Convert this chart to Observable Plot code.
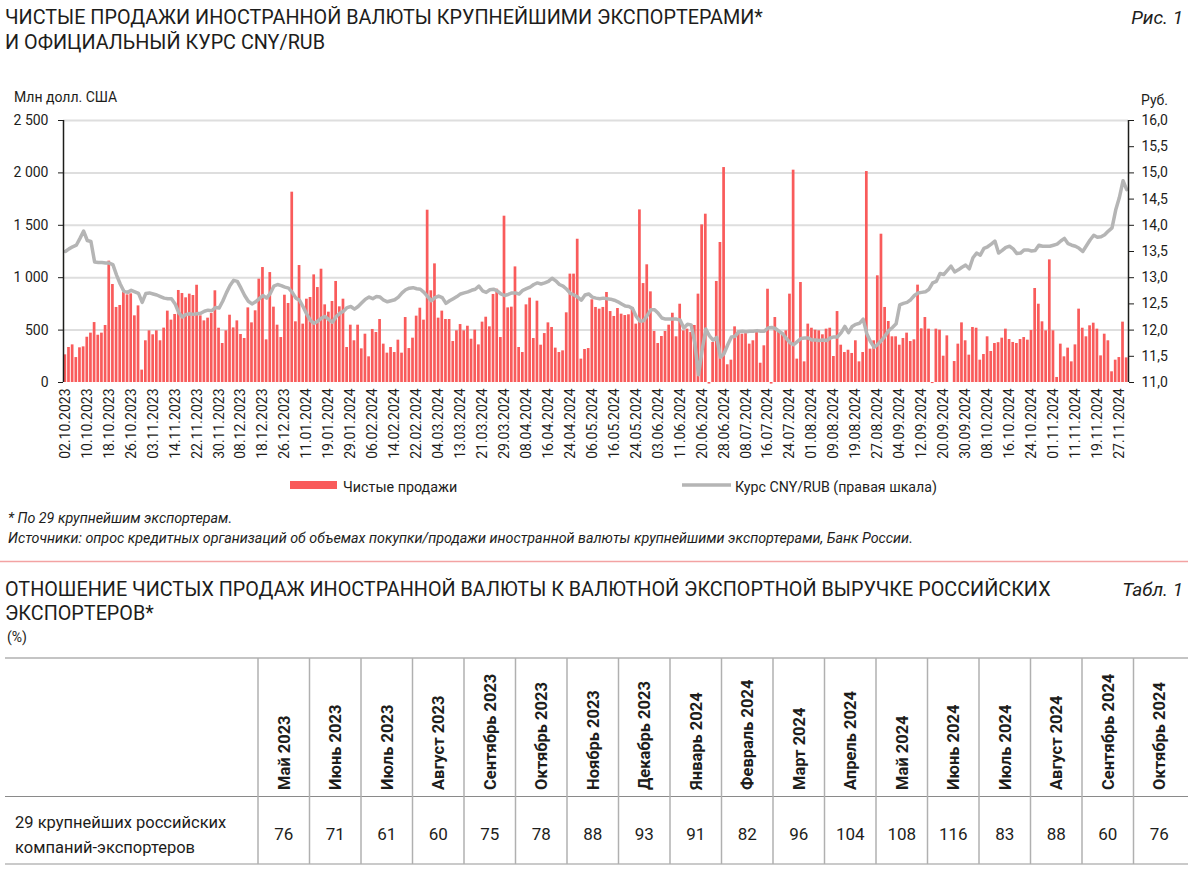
<!DOCTYPE html>
<html><head><meta charset="utf-8">
<script src="https://cdn.jsdelivr.net/npm/d3@7"></script>
<script src="https://cdn.jsdelivr.net/npm/@observablehq/plot@0.6"></script>
<style>
html,body{margin:0;padding:0;background:#fff}
body{width:1200px;height:872px;position:relative;overflow:hidden;font-family:Roboto,"Noto Sans",sans-serif;color:#1d1d1b}
#chart{position:absolute;left:0;top:90px}
#overlay{position:absolute;left:0;top:0}
</style></head>
<body>
<svg id="overlay" width="1200" height="872"></svg>
<div id="chart"></div>
<script>
// Net sales of foreign currency, USD mn (business days 02.10.2023 – 29.11.2024)
const netSales = [
264,334,359,238,331,340,432,471,572,451,471,544,1158,935,716,735,859,836,846,636,731,118,398,493,455,493,398,519,681,595,649,878,849,808,843,830,928,
636,588,614,658,875,518,372,493,642,521,588,458,420,712,569,684,986,1097,407,1049,719,547,429,833,754,1816,579,1116,557,795,811,1027,906,1081,741,671,773,
964,722,795,334,547,398,547,321,461,245,506,477,601,366,280,334,286,404,280,620,324,423,633,709,595,1644,875,1132,614,681,601,601,391,493,553,493,537,
413,499,359,576,623,531,840,890,429,1587,712,719,1103,334,286,741,805,420,776,356,467,569,525,328,286,302,665,1034,1034,1367,223,315,324,789,716,700,716,
859,677,630,706,652,639,646,716,557,1647,944,1123,865,487,372,439,487,547,661,436,747,493,509,477,544,843,1504,1606,-15,382,964,1336,2051,169,213,531,490,
461,467,366,398,477,184,350,890,-15,620,493,467,493,843,2026,223,954,197,557,518,499,493,455,509,518,248,677,356,286,308,277,398,197,286,2013,318,
398,1018,1415,716,582,436,436,356,420,471,391,407,929,512,620,509,-10,509,499,251,445,0,200,366,569,398,261,525,518,213,267,436,296,372,
380,423,509,410,382,372,410,429,404,496,897,747,579,493,1170,493,48,366,245,328,197,359,700,518,436,541,566,509,254,461,398,102,213,238,576,235
];
// Official CNY/RUB rate, rubles
const cnyRub = [
13.50,13.55,13.59,13.62,13.75,13.89,13.71,13.69,13.30,13.29,13.29,13.28,13.28,13.25,13.05,12.88,12.74,12.72,12.76,12.73,12.70,12.53,12.70,12.71,12.69,12.67,12.64,12.61,12.60,12.60,12.50,12.33,12.25,12.30,12.31,12.30,12.31,
12.32,12.36,12.38,12.37,12.43,12.42,12.55,12.71,12.85,12.95,12.93,12.80,12.66,12.55,12.50,12.54,12.60,12.66,12.61,12.70,12.84,12.87,12.85,12.82,12.80,12.72,12.61,12.57,12.44,12.30,12.18,12.13,12.17,12.23,12.26,12.20,12.15,
12.26,12.32,12.36,12.43,12.45,12.40,12.45,12.52,12.59,12.63,12.60,12.64,12.63,12.57,12.54,12.56,12.58,12.63,12.71,12.77,12.80,12.81,12.79,12.78,12.72,12.64,12.56,12.62,12.65,12.62,12.51,12.56,12.60,12.64,12.69,12.71,12.73,
12.76,12.78,12.84,12.75,12.72,12.77,12.78,12.75,12.69,12.66,12.68,12.71,12.71,12.69,12.76,12.79,12.82,12.87,12.90,12.88,12.90,12.93,12.99,12.94,12.87,12.84,12.78,12.70,12.67,12.63,12.57,12.67,12.69,12.63,12.61,12.60,12.61,
12.60,12.59,12.57,12.54,12.50,12.46,12.45,12.41,12.26,12.17,12.18,12.28,12.39,12.39,12.32,12.23,12.21,12.21,12.21,12.21,12.19,12.04,12.11,12.10,11.75,11.15,11.62,12.02,11.89,11.81,11.86,11.48,11.55,11.72,11.87,11.88,11.97,
11.98,11.97,11.98,11.98,11.99,11.98,11.98,12.04,12.05,12.03,11.98,11.93,11.84,11.76,11.72,11.78,11.84,11.85,11.85,11.81,11.81,11.80,11.81,11.80,11.85,11.87,11.87,11.95,12.07,11.95,12.07,12.11,12.13,12.21,11.93,11.78,
11.67,11.73,11.80,11.89,11.99,12.05,12.12,12.48,12.51,12.53,12.58,12.66,12.71,12.72,12.73,12.78,12.90,12.93,13.08,13.06,13.14,13.22,13.11,13.15,13.20,13.24,13.17,13.38,13.47,13.43,13.56,13.59,13.64,13.70,
13.47,13.52,13.58,13.60,13.55,13.46,13.47,13.53,13.53,13.51,13.52,13.62,13.60,13.60,13.60,13.62,13.64,13.70,13.75,13.65,13.62,13.60,13.56,13.50,13.61,13.72,13.81,13.77,13.78,13.82,13.89,13.95,14.29,14.53,14.85,14.68
];
// x-axis tick labels (every 6th business day)
const tickLabels = ["02.10.2023","10.10.2023","18.10.2023","26.10.2023","03.11.2023","14.11.2023","22.11.2023","30.11.2023","08.12.2023","18.12.2023","26.12.2023","11.01.2024","19.01.2024","29.01.2024","06.02.2024","14.02.2024","22.02.2024","04.03.2024","13.03.2024","21.03.2024","29.03.2024","08.04.2024","16.04.2024","24.04.2024","06.05.2024","16.05.2024","24.05.2024","03.06.2024","11.06.2024","20.06.2024","28.06.2024","08.07.2024","16.07.2024","24.07.2024","01.08.2024","09.08.2024","19.08.2024","27.08.2024","04.09.2024","12.09.2024","20.09.2024","30.09.2024","08.10.2024","16.10.2024","24.10.2024","01.11.2024","11.11.2024","19.11.2024","27.11.2024"];
const leftTicks = [0, 500, 1000, 1500, 2000, 2500];
const rightTicks = [11, 11.5, 12, 12.5, 13, 13.5, 14, 14.5, 15, 15.5, 16];
// Table
const tableMonths = ["Май 2023","Июнь 2023","Июль 2023","Август 2023","Сентябрь 2023","Октябрь 2023","Ноябрь 2023","Декабрь 2023","Январь 2024","Февраль 2024","Март 2024","Апрель 2024","Май 2024","Июнь 2024","Июль 2024","Август 2024","Сентябрь 2024","Октябрь 2024"];
const tableValues = [76,71,61,60,75,78,88,93,91,82,96,104,108,116,83,88,60,76];
const rowLabel = ["29 крупнейших российских","компаний-экспортеров"];

const BAR = "#f95b5b", LINE = "#b5b5b5";
const R0 = 11, K = 500; // right scale (rub) -> left scale units
const toLeft = r => (r - R0) * K;

const data = netSales.map((v, i) => ({i, v, r: cnyRub[i]}));
const N = netSales.length;

const chart = Plot.plot({
  width: 1200, height: 380,
  marginTop: 30, marginLeft: 63, marginRight: 72, marginBottom: 88,
  style: {fontFamily: "Roboto, sans-serif", fontSize: "14px", color: "#1d1d1b", background: "transparent"},
  x: {type: "linear", domain: [-0.5, N - 0.5]},
  y: {type: "linear", domain: [0, 2500]},
  marks: [
    Plot.ruleY(leftTicks.slice(1), {stroke: "#dedede", strokeWidth: 2}),
    Plot.rect(data, {x1: d => d.i - 0.37, x2: d => d.i + 0.37, y1: d => 0, y2: "v", fill: BAR}),
    Plot.lineY(data, {x: "i", y: d => toLeft(d.r), stroke: LINE, strokeWidth: 3.5, strokeLinejoin: "round"}),
    Plot.ruleX([-0.5, N - 0.5], {stroke: "#1d1d1b", strokeWidth: 1.5}),
    Plot.axisY({anchor: "left", ticks: leftTicks, tickFormat: d => d3.format(",")(d).replace(/,/g, "\u00a0"), tickSize: 5, tickPadding: 10, label: null, fontSize: 14}),
    Plot.axisY({anchor: "right", ticks: rightTicks.map(toLeft), tickFormat: d => (d / K + R0).toFixed(1).replace(".", ","), tickSize: 5, tickPadding: 8, label: null, fontSize: 14}),
    Plot.axisX({ticks: tickLabels.map((_, k) => k * 6), tickFormat: i => tickLabels[Math.round(i / 6)], tickRotate: -90, tickSize: 0, tickPadding: 6, label: null, fontSize: 14})
  ]
});
document.getElementById("chart").appendChild(chart);

// Overlay: titles, legend, notes, table
const svg = d3.select("#overlay");
function txt(x, y, s, o = {}) {
  const t = svg.append("text").attr("x", x).attr("y", y).text(s)
    .attr("font-family", o.family || "Roboto, sans-serif")
    .attr("font-size", o.size || 14)
    .attr("fill", o.fill || "#1d1d1b");
  if (o.anchor) t.attr("text-anchor", o.anchor);
  if (o.italic) t.attr("font-style", "italic");
  if (o.weight) t.attr("font-weight", o.weight);
  if (o.rotate) t.attr("transform", `rotate(${o.rotate},${x},${y})`);
  return t;
}
// chart title
txt(5, 24, "ЧИСТЫЕ ПРОДАЖИ ИНОСТРАННОЙ ВАЛЮТЫ КРУПНЕЙШИМИ ЭКСПОРТЕРАМИ*", {size: 19.8});
txt(5, 49, "И ОФИЦИАЛЬНЫЙ КУРС CNY/RUB", {size: 19.8});
txt(1183, 24, "Рис. 1", {size: 19, italic: true, anchor: "end"});
// axis titles
txt(14, 102, "Млн долл. США", {size: 14});
txt(1141, 105, "Руб.", {size: 14});
// legend
svg.append("rect").attr("x", 290).attr("y", 481).attr("width", 47).attr("height", 8).attr("fill", BAR);
txt(343, 492, "Чистые продажи", {size: 14.3});
svg.append("line").attr("x1", 682).attr("x2", 731).attr("y1", 485).attr("y2", 485).attr("stroke", LINE).attr("stroke-width", 3.5);
txt(735, 492, "Курс CNY/RUB (правая шкала)", {size: 14.2});
// notes
txt(8, 523, "* По 29 крупнейшим экспортерам.", {size: 14.3, italic: true});
txt(8, 543, "Источники: опрос кредитных организаций об объемах покупки/продажи иностранной валюты крупнейшими экспортерами, Банк России.", {size: 14.3, italic: true});
// separator
svg.append("line").attr("x1", 0).attr("x2", 1188).attr("y1", 561.5).attr("y2", 561.5).attr("stroke", "#f3a3a3").attr("stroke-width", 1.5);
// table title
txt(5, 596, "ОТНОШЕНИЕ ЧИСТЫХ ПРОДАЖ ИНОСТРАННОЙ ВАЛЮТЫ К ВАЛЮТНОЙ ЭКСПОРТНОЙ ВЫРУЧКЕ РОССИЙСКИХ", {size: 19.8});
txt(5, 620, "ЭКСПОРТЕРОВ*", {size: 19.8});
txt(1183, 596, "Табл. 1", {size: 19, italic: true, anchor: "end"});
txt(7, 642, "(%)", {size: 14});
// table grid
const colX0 = 258, colW = 51.5, yTop = 658, yHead = 796.5, yBot = 864;
svg.append("line").attr("x1", 5).attr("x2", 1188).attr("y1", yTop).attr("y2", yTop).attr("stroke", "#c4c4c4").attr("stroke-width", 2);
svg.append("line").attr("x1", 5).attr("x2", 1188).attr("y1", yHead).attr("y2", yHead).attr("stroke", "#8a8a8a").attr("stroke-width", 1.2);
svg.append("line").attr("x1", 5).attr("x2", 1188).attr("y1", yBot).attr("y2", yBot).attr("stroke", "#b8b8b8").attr("stroke-width", 1.5);
tableMonths.forEach((m, k) => {
  const x = colX0 + k * colW;
  svg.append("line").attr("x1", x).attr("x2", x).attr("y1", yTop).attr("y2", yBot).attr("stroke", "#b0b0b0").attr("stroke-width", 1.5);
  const cx = x + colW / 2;
  txt(cx + 6, 790, m, {size: 16.5, weight: 700, rotate: -90});
  txt(cx, 840, String(tableValues[k]), {size: 17, anchor: "middle"});
});
txt(15, 828, rowLabel[0], {size: 16.5});
txt(15, 853, rowLabel[1], {size: 16.5});
</script>
</body></html>
